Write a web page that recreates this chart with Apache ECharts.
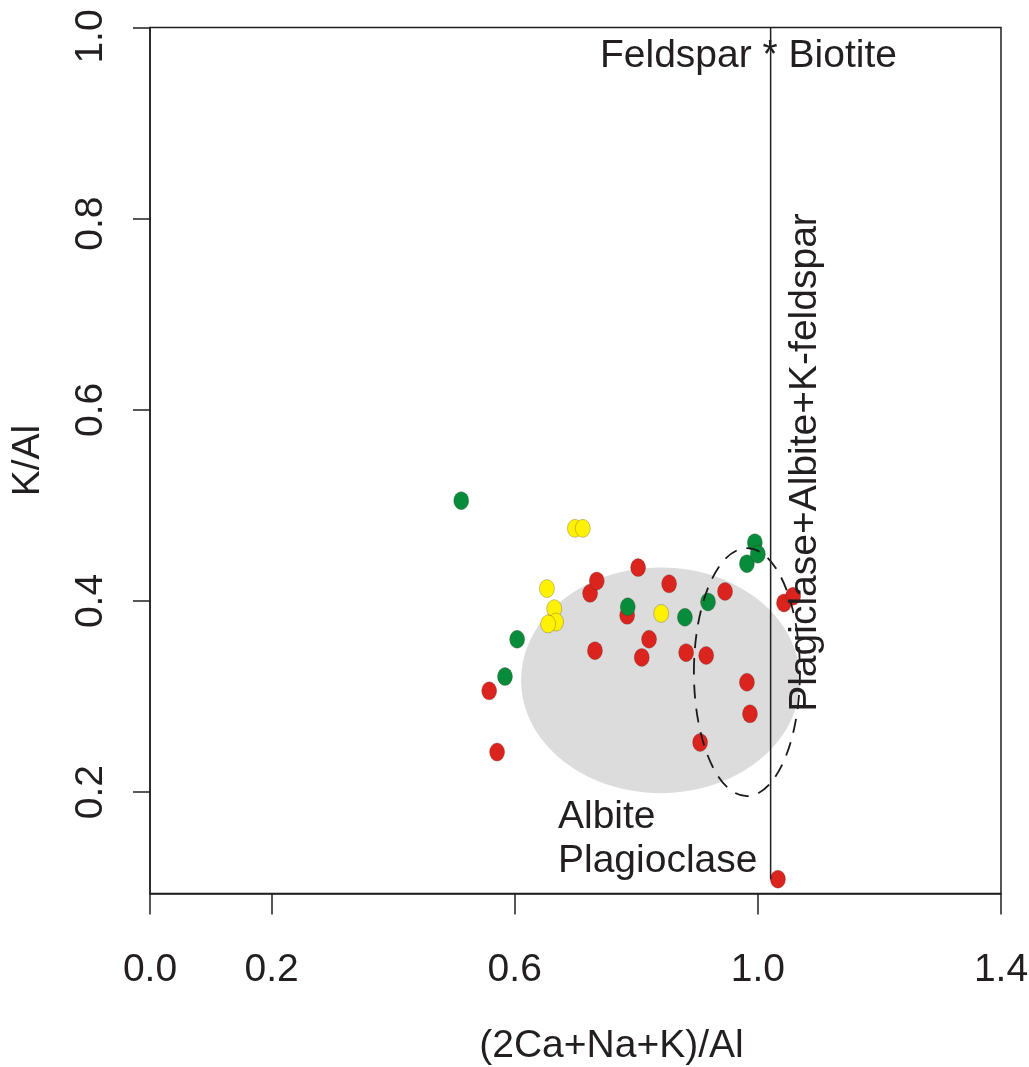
<!DOCTYPE html>
<html>
<head>
<meta charset="utf-8">
<title>K/Al vs (2Ca+Na+K)/Al</title>
<script src="https://cdn.jsdelivr.net/npm/echarts@6/dist/echarts.min.js"></script>
<style>
  html, body { margin: 0; padding: 0; background: #ffffff; }
  #chart { width: 1029px; height: 1067px; }
</style>
</head>
<body>
<div id="chart"></div>
<script>
// Axis ticks
const xTicks = [0, 0.2, 0.6, 1.0, 1.4];
const yTicks = [0.2, 0.4, 0.6, 0.8, 1.0];

// Samples: [ (2Ca+Na+K)/Al , K/Al ]
const redPoints = [
  [0.558, 0.306], [0.571, 0.242], [0.724, 0.408], [0.735, 0.421],
  [0.803, 0.435], [0.785, 0.385], [0.732, 0.348], [0.821, 0.360],
  [0.809, 0.341], [0.854, 0.418], [0.946, 0.410], [0.882, 0.346],
  [0.915, 0.343], [0.982, 0.315], [0.987, 0.282], [0.905, 0.252],
  [1.043, 0.398], [1.058, 0.405], [1.033, 0.109]
];
const yellowPoints = [
  [0.699, 0.476], [0.712, 0.476], [0.653, 0.413], [0.665, 0.392],
  [0.668, 0.378], [0.655, 0.376], [0.841, 0.387]
];
const greenPoints = [
  [0.512, 0.505], [0.604, 0.360], [0.584, 0.321], [0.786, 0.394],
  [0.880, 0.383], [0.918, 0.399], [0.982, 0.439], [0.995, 0.461],
  [1.000, 0.449]
];

// Fields drawn as ellipses: [centerX, centerY, radiusX, radiusY]
const albiteField = [[0.840, 0.317, 0.2295, 0.118]];
const dashedField = [[0.982, 0.3256, 0.0872, 0.1297]];

// Feldspar / biotite boundary
const boundaryLine = [[1.021, 1.0], [1.021, 0.109]];

// Text
const xName = '(2Ca+Na+K)/Al';
const yName = 'K/Al';
const topLabel = 'Feldspar * Biotite';
const fieldLabel = ['Albite', 'Plagioclase'];
const sideLabel = 'Plagiclase+Albite+K-feldspar';

const FONT = "'Liberation Sans', Arial, Helvetica, sans-serif";
const INK = '#231f20';
const FS = 39;

function ellipseItem(fill, stroke, dash) {
  return function (params, api) {
    const c = api.coord([api.value(0), api.value(1)]);
    const s = api.size([api.value(2), api.value(3)]);
    return {
      type: 'ellipse',
      shape: { cx: c[0], cy: c[1], rx: s[0], ry: s[1] },
      style: {
        fill: fill,
        stroke: stroke,
        lineWidth: stroke ? 1.8 : 0,
        lineDash: dash || null
      }
    };
  };
}

const chart = echarts.init(document.getElementById('chart'), null, { renderer: 'canvas' });

const dotStyle = (color) => ({
  color: color,
  borderColor: 'rgba(60,40,30,0.45)',
  borderWidth: 0.6,
  opacity: 1
});

// upper y labels sit a little lower than their ticks
function yLabel(v) {
  const t = v.toFixed(1);
  if (Math.abs(v - 1.0) < 1e-9) return '{top|' + t + '}';
  if (Math.abs(v - 0.8) < 1e-9) return '{upper|' + t + '}';
  return t;
}

chart.setOption({
  animation: false,
  backgroundColor: '#ffffff',
  grid: {
    left: 150, right: 28, top: 27.5, bottom: 173.5,
    show: true,
    borderColor: INK,
    borderWidth: 1.5,
    backgroundColor: 'transparent',
    containLabel: false,
    outerBoundsMode: 'none'
  },
  xAxis: {
    type: 'value',
    min: 0, max: 1.4,
    name: xName,
    nameLocation: 'middle',
    nameGap: 133,
    nameTextStyle: { fontFamily: FONT, fontSize: FS, color: INK, padding: [0, 0, 0, 72] },
    axisLine: { show: true, lineStyle: { color: INK, width: 1.5 } },
    axisTick: { show: true, inside: false, length: 21, customValues: xTicks, lineStyle: { color: INK, width: 1.5 } },
    axisLabel: {
      customValues: xTicks,
      margin: 57,
      fontFamily: FONT, fontSize: FS, color: INK,
      formatter: (v) => v.toFixed(1),
      showMinLabel: true, showMaxLabel: true
    },
    splitLine: { show: false }
  },
  yAxis: {
    type: 'value',
    min: 0.094, max: 1.0,
    name: yName,
    nameLocation: 'middle',
    nameRotate: 90,
    nameGap: 102,
    nameTextStyle: { fontFamily: FONT, fontSize: FS, color: INK },
    axisLine: { show: true, lineStyle: { color: INK, width: 1.5 } },
    axisTick: { show: true, inside: false, length: 17, customValues: yTicks, lineStyle: { color: INK, width: 1.5 } },
    axisLabel: {
      customValues: yTicks,
      rotate: 90,
      margin: 39,
      fontFamily: FONT, fontSize: FS, color: INK,
      formatter: yLabel,
      rich: {
        top: { fontFamily: FONT, fontSize: FS, color: INK, padding: [0, 18, 0, 0] },
        upper: { fontFamily: FONT, fontSize: FS, color: INK, padding: [0, 10, 0, 0] }
      },
      showMinLabel: true, showMaxLabel: true
    },
    splitLine: { show: false }
  },
  series: [
    {
      type: 'custom',
      name: 'Albite field',
      z: 1,
      silent: true,
      encode: { x: 0, y: 1 },
      renderItem: ellipseItem('#dcdcdc', null, null),
      data: albiteField
    },
    {
      type: 'scatter', name: 'red', z: 2,
      symbol: 'circle', symbolSize: [15, 18],
      itemStyle: dotStyle('#dc241f'),
      data: redPoints
    },
    {
      type: 'scatter', name: 'yellow', z: 2,
      symbol: 'circle', symbolSize: [15, 18],
      itemStyle: dotStyle('#fff200'),
      data: yellowPoints
    },
    {
      type: 'scatter', name: 'green', z: 2,
      symbol: 'circle', symbolSize: [15, 18],
      itemStyle: dotStyle('#078c3c'),
      data: greenPoints
    },
    {
      type: 'custom',
      name: 'dashed field',
      z: 3,
      silent: true,
      encode: { x: 0, y: 1 },
      renderItem: ellipseItem(null, '#1a1a1a', [14, 10]),
      data: dashedField
    },
    {
      type: 'line',
      name: 'boundary',
      z: 3,
      symbol: 'none',
      silent: true,
      lineStyle: { color: INK, width: 1.5 },
      data: boundaryLine
    }
  ],
  graphic: [
    {
      type: 'text', z: 10, silent: true,
      x: 600, y: 56.5,
      style: { text: topLabel, fontFamily: FONT, fontSize: FS, fill: INK, align: 'left', verticalAlign: 'middle' }
    },
    {
      type: 'text', z: 10, silent: true,
      x: 558, y: 817.5,
      style: { text: fieldLabel[0], fontFamily: FONT, fontSize: FS, fill: INK, align: 'left', verticalAlign: 'middle' }
    },
    {
      type: 'text', z: 10, silent: true,
      x: 558, y: 861.5,
      style: { text: fieldLabel[1], fontFamily: FONT, fontSize: FS, fill: INK, align: 'left', verticalAlign: 'middle' }
    },
    {
      type: 'text', z: 10, silent: true,
      x: 805.5, y: 462.5,
      rotation: Math.PI / 2,
      style: { text: sideLabel, fontFamily: FONT, fontSize: FS, fill: INK, align: 'center', verticalAlign: 'middle' }
    }
  ]
});
</script>
</body>
</html>
